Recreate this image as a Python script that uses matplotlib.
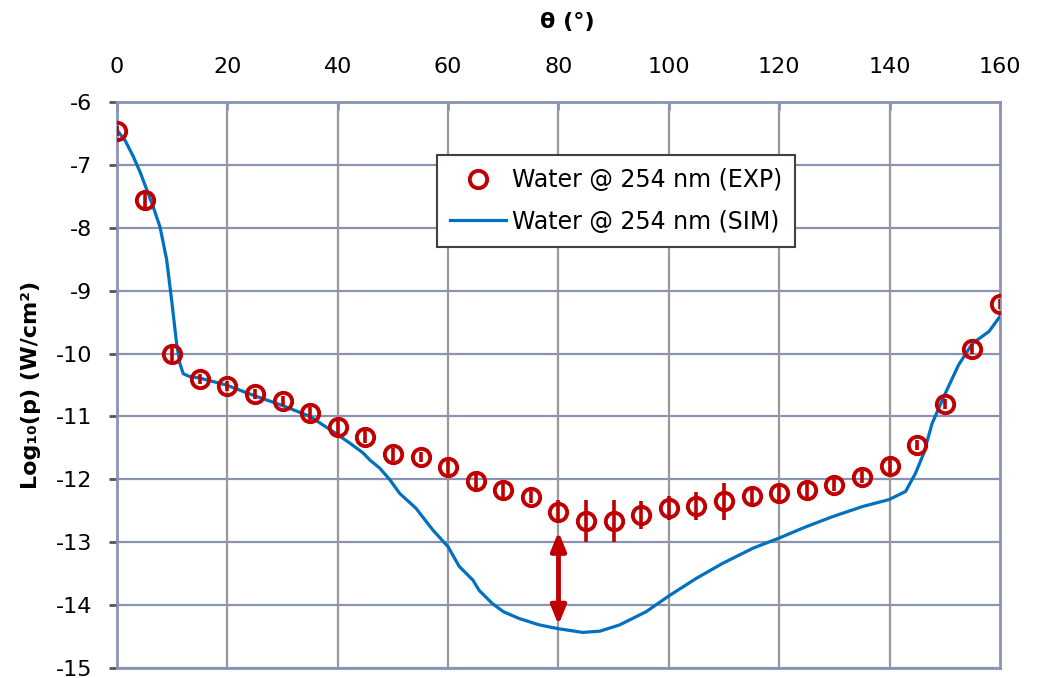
import matplotlib
matplotlib.use("Agg")
import matplotlib.pyplot as plt
from matplotlib.ticker import MultipleLocator

plt.rcParams['font.family'] = ['DejaVu Sans']
plt.rcParams['axes.unicode_minus'] = False

# Measured data (EXP) at 5-degree steps
theta_exp = [0, 5, 10, 15, 20, 25, 30, 35, 40, 45, 50, 55, 60, 65, 70, 75, 80,
             85, 90, 95, 100, 105, 110, 115, 120, 125, 130, 135, 140, 145,
             150, 155, 160]
logp_exp = [-6.46, -7.56, -10.00, -10.40, -10.51, -10.65, -10.76, -10.95,
            -11.16, -11.32, -11.60, -11.65, -11.81, -12.02, -12.17, -12.28,
            -12.51, -12.66, -12.66, -12.56, -12.46, -12.42, -12.35, -12.26,
            -12.21, -12.16, -12.09, -11.96, -11.79, -11.45, -10.80, -9.93,
            -9.22]
err_exp = [0.08, 0.16, 0.14, 0.08, 0.08, 0.08, 0.08, 0.10, 0.14, 0.10,
           0.10, 0.08, 0.12, 0.14, 0.14, 0.10, 0.18, 0.34, 0.34, 0.22,
           0.19, 0.22, 0.30, 0.14, 0.14, 0.14, 0.10, 0.10, 0.12, 0.08,
           0.08, 0.08, 0.08]

# Simulated curve (SIM)
theta_sim = [0, 1.5, 2.95, 4.2, 5.4, 6.6, 7.8, 9.0, 9.9, 10.8, 11.4, 12.0,
             13.0, 15.0, 19.8, 24.6, 30.1, 35.0, 40.0, 42.3, 44.6, 45.8,
             47.6, 49.4, 51.2, 54.2, 54.9, 57.2, 60.0, 62.0, 64.5, 65.6,
             68.0, 70.0, 72.9, 76.5, 79.9, 84.4, 87.5, 91.1, 95.9,
             100.0, 105.0, 109.8, 115.3, 120.0, 124.9, 129.7, 135.1, 139.9,
             142.9, 144.7, 146.2, 147.7, 150.1, 152.5, 155.0, 158.0, 160.0]
logp_sim = [-6.45, -6.62, -6.87, -7.12, -7.40, -7.68, -7.99, -8.51, -9.15,
            -9.84, -10.16, -10.32, -10.36, -10.39, -10.50, -10.66, -10.83,
            -11.00, -11.29, -11.43, -11.58, -11.69, -11.82, -12.00, -12.22,
            -12.46, -12.54, -12.80, -13.07, -13.38, -13.60, -13.76, -13.97,
            -14.10, -14.21, -14.31, -14.37, -14.43, -14.41, -14.31, -14.10,
            -13.85, -13.57, -13.33, -13.09, -12.93, -12.75, -12.59, -12.43,
            -12.32, -12.19, -11.90, -11.58, -11.11, -10.63, -10.18, -9.84,
            -9.65, -9.41]

# Gap annotation at 80 degrees
gap_theta = 80
gap_top = -12.83
gap_bottom = -14.31

red = '#C00000'
blue = '#0070C0'
grid_blue = '#8A93B4'
grid_gray = '#999999'

fig = plt.figure(figsize=(10.38, 6.78), dpi=100)
ax = fig.add_axes([0.1127, 0.0143, 0.8507, 0.8357])

ax.set_xlim(0, 160)
ax.set_ylim(-15, -6)
ax.xaxis.set_major_locator(MultipleLocator(20))
ax.yaxis.set_major_locator(MultipleLocator(1))

ax.xaxis.tick_top()
ax.xaxis.set_label_position('top')

for ytick in range(-15, -5):
    ax.axhline(ytick, color=grid_blue, lw=1.6, zorder=1)
for xtick in range(20, 160, 20):
    ax.axvline(xtick, color=grid_gray, lw=1.6, zorder=1)

for s in ax.spines.values():
    s.set_color(grid_blue)
    s.set_linewidth(2.0)

ax.tick_params(axis='x', which='major', direction='in', length=6, width=2,
               color=grid_blue, labelsize=16, pad=18, top=True, bottom=False)
ax.tick_params(axis='y', which='major', direction='out', length=6, width=2,
               color='#555555', labelsize=16, pad=12)

ax.plot(theta_sim, logp_sim, color=blue, lw=2.3, zorder=3,
        label='Water @ 254 nm (SIM)')
ax.errorbar(theta_exp, logp_exp, yerr=err_exp, fmt='none', ecolor=red,
            elinewidth=2.6, capsize=0, zorder=4)
ax.plot(theta_exp, logp_exp, 'o', mfc='none', mec=red, mew=2.8, ms=12.5,
        zorder=5, label='Water @ 254 nm (EXP)')

ax.annotate('', xy=(gap_theta, gap_bottom), xytext=(gap_theta, gap_top),
            arrowprops=dict(arrowstyle='<|-|>,head_length=1.1,head_width=0.45',
                            color=red, lw=3.5, shrinkA=0, shrinkB=0),
            zorder=6)

handles, labels = ax.get_legend_handles_labels()
leg = ax.legend(handles[::-1], labels[::-1], loc='upper left',
                bbox_to_anchor=(0.362, 0.906), fontsize=17, frameon=True,
                fancybox=False, edgecolor='#404040', framealpha=1,
                handlelength=2.4, borderpad=0.55, labelspacing=0.75,
                handletextpad=0.25, borderaxespad=0)
leg.get_frame().set_linewidth(1.5)

ax.set_xlabel('θ (°)', fontsize=16, fontweight='bold')
ax.xaxis.set_label_coords(0.51, 1.13)
ax.set_ylabel('Log₁₀(p) (W/cm²)', fontsize=16, fontweight='bold')
ax.yaxis.set_label_coords(-0.086, 0.5)

fig.savefig('out.png', dpi=100)
